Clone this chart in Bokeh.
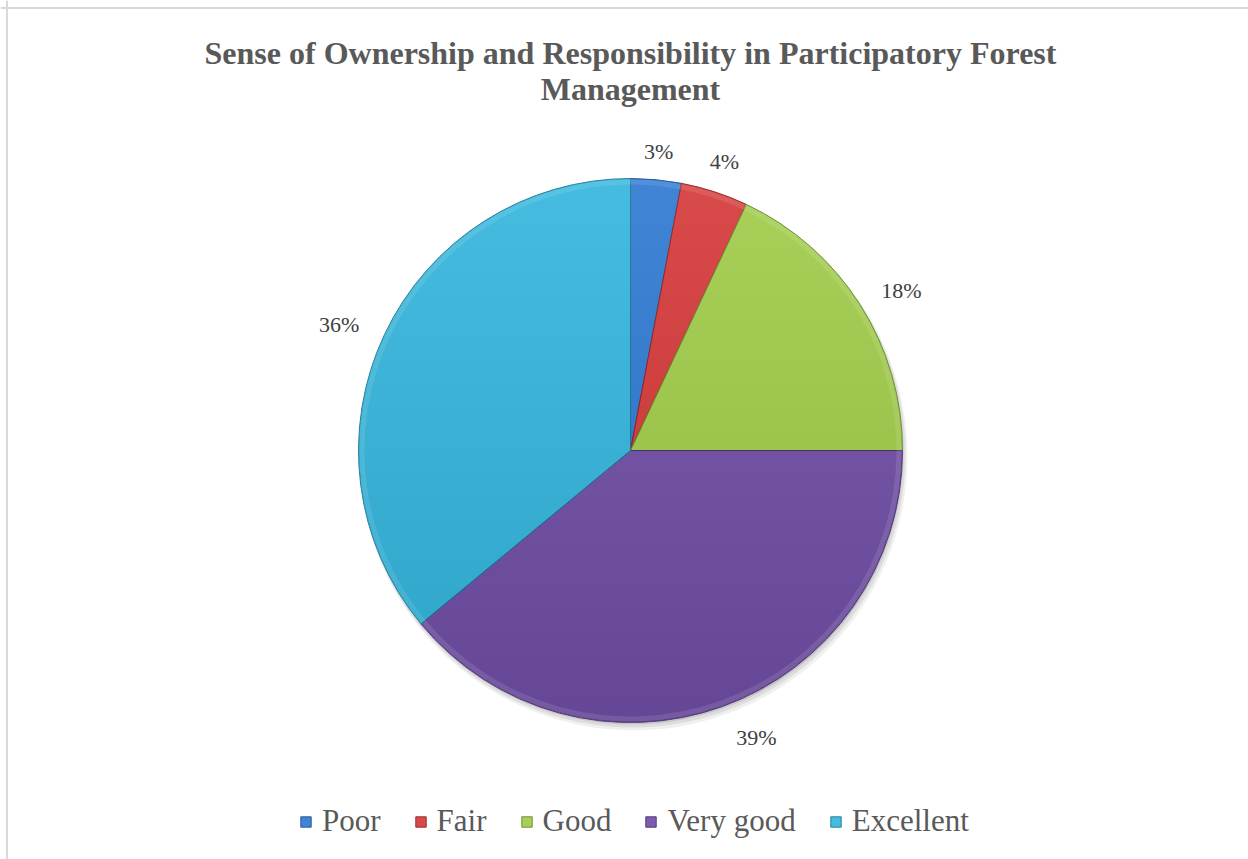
import math
from bokeh.plotting import figure
from bokeh.models import Range1d, Span, Legend, LegendItem, ColumnDataSource
from bokeh.core.properties import value
from bokeh.embed import file_html
from bokeh.resources import INLINE

# ---- data ----
categories = ["Poor", "Fair", "Good", "Very good", "Excellent"]
percentages = [3, 4, 18, 39, 36]
title_lines = ["Sense of Ownership and Responsibility in Participatory Forest", "Management"]

# ---- styles ----
fill_colors = ["#4084D6", "#D84A4A", "#A8D058", "#7D5EAE", "#45BBDF"]
edge_colors = ["#2A5A9A", "#9A2E2E", "#6E9034", "#523A78", "#27809C"]
W, H = 1248, 859
CX, CY, R = 630, -450, 272
SERIF = "Liberation Serif"

p = figure(width=W, height=H, x_range=Range1d(0, W), y_range=Range1d(-H, 0),
           output_backend="svg", toolbar_location=None, min_border=0,
           x_axis_location=None, y_axis_location=None)
p.grid.visible = False
p.outline_line_color = None
p.background_fill_color = "white"
p.border_fill_color = "white"

# chart border (cropped: only left and top edges visible)
p.add_layout(Span(location=6.5, dimension="height", line_color="#d9d9d9", line_width=2))
p.add_layout(Span(location=-7.5, dimension="width", line_color="#d9d9d9", line_width=2))

# slice angles (start at 12 o'clock, clockwise)
total = float(sum(percentages))
cum = 0.0
starts, ends, mids = [], [], []
for v in percentages:
    a0 = cum / total * 2 * math.pi
    cum += v
    a1 = cum / total * 2 * math.pi
    starts.append(math.pi / 2 - a1)
    ends.append(math.pi / 2 - a0)
    mids.append((a0 + a1) / 2)

src = ColumnDataSource(dict(start=starts, end=ends, fill=fill_colors, edge=edge_colors))

# soft shadow
for dx, dy, dr, al in [(3, -6, 2, 0.06), (2, -4, 1, 0.08), (1, -2, 0, 0.10)]:
    p.wedge(x=CX + dx, y=CY + dy, radius=R + dr, start_angle=0, end_angle=2 * math.pi,
            fill_color="#000000", fill_alpha=al, line_color=None)

p.wedge(x=CX, y=CY, radius=R, start_angle="start", end_angle="end", source=src,
        fill_color="fill", line_color="edge", line_width=1)

# vertical shading (darker toward bottom): stacked circular segments of the pie disc
def segment(h):
    a = math.asin(max(-1.0, min(1.0, h / R)))
    n = 60
    angs = [a - (math.pi + 2 * a) * i / n for i in range(n + 1)]
    xs = [CX + R * math.cos(t) for t in angs]
    ys = [CY + R * math.sin(t) for t in angs]
    return xs, ys

nb = 24
sx, sy = [], []
for i in range(1, nb + 1):
    xs, ys = segment(R - 2 * R * i / nb)
    sx.append(xs)
    sy.append(ys)
p.patches(xs=sx, ys=sy, fill_color="#000000", fill_alpha=0.004, line_color=None)

# bevel-ish rim highlight
p.annular_wedge(x=CX, y=CY, inner_radius=R - 6, outer_radius=R - 1, start_angle="start",
                end_angle="end", source=src, fill_color="white", fill_alpha=0.10, line_color=None)

# data labels (outside end)
lx, ly, lt = [], [], []
for v, m in zip(percentages, mids):
    s, c = math.sin(m), math.cos(m)
    d = R + 26 + 20 * abs(s)
    x = CX + d * s
    y = CY + d * c
    if abs(s) > 0.7:
        x += 6 * s
        y -= 9
    if c < 0:
        x += 24 * abs(c)
    lx.append(x)
    ly.append(y)
    lt.append(f"{v}%")
p.text(x=lx, y=ly, text=lt, text_font=value(SERIF), text_font_size="22px",
       text_color="#404040", text_align="center", text_baseline="middle")

# title
p.text(x=[CX, CX], y=[-52, -88], text=title_lines, text_font=value(SERIF),
       text_font_size="32px", text_font_style="bold", text_color="#595959",
       text_align="center", text_baseline="middle")

# legend (keys drawn from NaN-positioned boxes so only the legend shows them)
items = []
for cat, fc, ec in zip(categories, fill_colors, edge_colors):
    r = p.quad(left=[float("nan")], right=[float("nan")], top=[float("nan")],
               bottom=[float("nan")], fill_color=fc, line_color=ec)
    items.append(LegendItem(label=cat, renderers=[r]))
legend = Legend(items=items, orientation="horizontal", location=(299, 20),
                glyph_width=13, glyph_height=13, label_standoff=10, spacing=33,
                padding=0, margin=0, border_line_color=None, background_fill_alpha=0,
                label_text_font=SERIF, label_text_font_size="31px",
                label_text_color="#595959", label_height=30)
p.add_layout(legend, "center")

open("out.html", "w").write(file_html(p, INLINE))
